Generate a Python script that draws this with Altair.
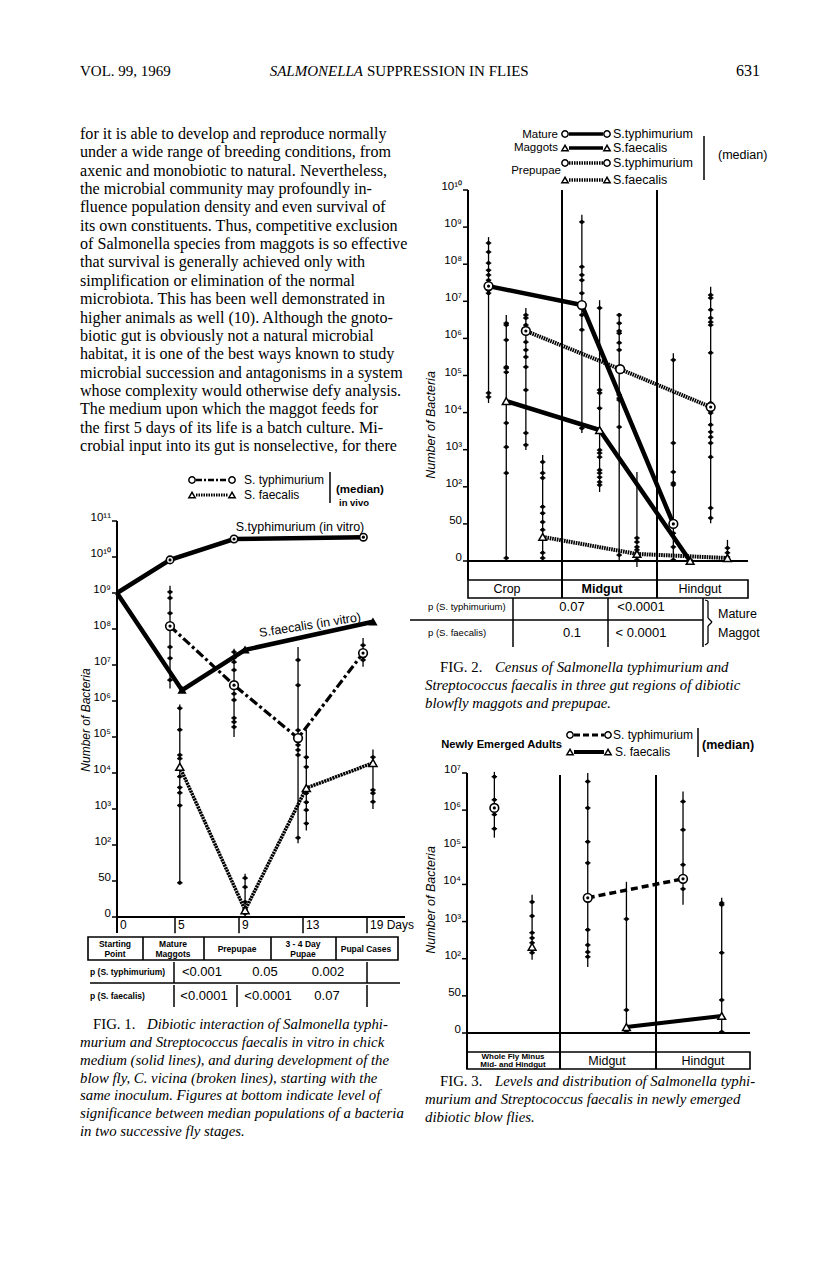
import altair as alt
import pandas as pd

# ------------------------------------------------------------------
# DATA read from the scanned page.
# Vertical values are in "axis units": 0 -> 0 bacteria, 1 -> 50,
# k (k >= 2) -> 10^k bacteria.
# ------------------------------------------------------------------
LEVEL_LABELS = ['0', '50', '10²', '10³', '10⁴', '10⁵', '10⁶', '10⁷',
                '10⁸', '10⁹', '10¹⁰', '10¹¹']

# ---- Fig. 1 (x = days) ----
f1_days = [0, 5, 9, 13, 19]
f1_day_labels = ['0', '5', '9', '13', '19 Days']
f1_vitro_typ_x = [0, 4.57, 8.69, 18.66]
f1_vitro_typ_y = [9.0, 9.92, 10.5, 10.55]
f1_vitro_fae_x = [0, 5.44, 9.38, 19.56]
f1_vitro_fae_y = [9.0, 6.3, 7.42, 8.2]
f1_vivo_typ_x = [4.57, 8.69, 12.69, 18.63]
f1_vivo_typ_y = [8.08, 6.44, 4.97, 7.33]
f1_vivo_typ_dot = [1, 1, 0, 1]
f1_vivo_fae_x = [5.3, 9.38, 13.31, 19.56]
f1_vivo_fae_y = [4.17, 0.19, 3.58, 4.28]
f1_grp_x = [4.57, 5.3, 8.69, 9.38, 12.69, 13.31, 18.63, 19.56]
f1_grp_lo = [6.35, 0.9, 5.0, 0.0, 2.05, 2.4, 6.95, 3.0]
f1_grp_hi = [9.2, 5.9, 7.45, 1.2, 7.5, 5.2, 7.75, 4.65]
f1_grp_dots = [
    [9.03, 8.86, 8.44, 7.5, 7.19, 6.58],
    [5.8, 5.2, 4.5, 4.4, 3.9, 3.6, 3.45, 3.1, 0.95],
    [7.36, 7.2, 7.08, 6.86, 6.2, 6.03, 5.53, 5.42, 5.28],
    [1.08, 0.83, 0.42, 0.2, 0.1],
    [7.14, 6.44, 5.19, 4.78, 4.64, 4.5, 2.2],
    [4.44, 4.17, 3.44, 3.19, 2.97, 2.6],
    [7.55, 7.22, 7.14],
    [4.44, 4.22, 3.53, 3.44, 3.2],
]
f1_stages = ['Starting\nPoint', 'Mature\nMaggots', 'Prepupae', '3 - 4 Day\nPupae', 'Pupal Cases']
f1_p_typ = ['<0.001', '0.05', '0.002']
f1_p_fae = ['<0.0001', '<0.0001', '0.07']

# ---- Fig. 2 (x = gut region 0 Crop, 1 Midgut, 2 Hindgut + offset) ----
f2_regions = ['Crop', 'Midgut', 'Hindgut']
f2_mat_typ_x = [0.22, 1.22, 2.20]
f2_mat_typ_y = [7.41, 6.9, 1.0]
f2_mat_typ_dot = [1, 0, 1]
f2_mat_fae_x = [0.41, 1.41, 2.38]
f2_mat_fae_y = [4.31, 3.53, 0.0]
f2_pre_typ_x = [0.62, 1.63, 2.60]
f2_pre_typ_y = [6.2, 5.17, 4.15]
f2_pre_typ_dot = [1, 0, 1]
f2_pre_fae_x = [0.80, 1.81, 2.78]
f2_pre_fae_y = [0.65, 0.19, 0.08]
f2_grp_x = [0.22, 0.41, 0.62, 0.80, 1.22, 1.41, 1.62, 1.81, 2.20, 2.38, 2.60, 2.78]
f2_grp_lo = [4.26, 0.08, 2.99, 0.0, 3.45, 1.86, 0.0, -0.16, 0.0, 0.0, 1.02, 0.0]
f2_grp_hi = [8.73, 6.63, 6.82, 2.86, 9.33, 7.03, 6.68, 2.4, 5.6, 0.1, 7.39, 0.57]
f2_grp_dots = [
    [8.57, 8.33, 8.03, 7.84, 7.71, 7.57, 7.3, 7.22, 4.53, 4.42],
    [6.41, 6.36, 5.96, 5.23, 5.2, 5.09, 4.26, 3.72, 3.07, 2.37, 0.08],
    [6.63, 6.55, 6.36, 5.9, 5.69, 5.5, 5.23, 4.61, 3.45, 3.13],
    [2.67, 2.37, 2.24, 1.46, 1.29, 1.05, 0.84, 0.22, 0.08],
    [9.14, 7.93, 7.71, 7.57, 7.22, 6.82, 6.63, 6.23, 3.67, 3.58],
    [6.82, 4.61, 4.53, 4.12, 2.99, 2.91, 2.8, 2.45, 2.37, 2.26, 2.13, 2.05],
    [6.63, 6.41, 6.2, 6.14, 5.88, 5.69, 4.48, 4.39, 4.34, 3.61, 0.16],
    [0.62, 0.51, 0.38, 0.3, 0.22, 0.11, 0.03],
    [5.42, 3.18, 2.4, 2.1, 2.05, 0.75, 0.38, 0.03],
    [0.03],
    [7.17, 7.09, 6.77, 6.55, 6.44, 6.36, 5.61, 4.26, 3.99, 3.67, 3.48, 3.34, 3.18, 2.8, 1.43, 1.16],
    [0.35, 0.22, 0.11, 0.03],
]
f2_p_typ = ['0.07', '<0.0001']
f2_p_fae = ['0.1', '< 0.0001']

# ---- Fig. 3 (x = region 0 Whole fly, 1 Midgut, 2 Hindgut + offset) ----
f3_regions = ['Whole Fly Minus\nMid- and Hindgut', 'Midgut', 'Hindgut']
f3_typ_x = [0.29, 1.28, 2.29]
f3_typ_y = [6.06, 3.64, 4.15]
f3_fae_x = [0.69, 1.69, 2.70]
f3_fae_y = [2.32, 0.16, 0.46]
f3_grp_x = [0.29, 0.69, 1.28, 1.69, 2.29, 2.70]
f3_grp_lo = [5.26, 1.97, 1.78, 0.0, 3.45, 0.0]
f3_grp_hi = [7.03, 3.72, 7.0, 4.07, 6.5, 3.64]
f3_grp_dots = [
    [6.9, 6.28, 5.88, 5.5],
    [3.53, 3.15, 2.7, 2.56, 2.43, 2.24, 2.16],
    [6.77, 6.06, 5.15, 4.58, 2.78, 2.37, 2.18, 2.05],
    [3.07, 0.62, 0.03],
    [6.23, 5.47, 4.53, 3.88],
    [3.5, 3.45, 2.16, 0.89, 0.03],
]

# ---- page text ----
body_lines = [
    "for it is able to develop and reproduce normally",
    "under a wide range of breeding conditions, from",
    "axenic and monobiotic to natural. Nevertheless,",
    "the microbial community may profoundly in-",
    "fluence population density and even survival of",
    "its own constituents. Thus, competitive exclusion",
    "of Salmonella species from maggots is so effective",
    "that survival is generally achieved only with",
    "simplification or elimination of the normal",
    "microbiota. This has been well demonstrated in",
    "higher animals as well (10). Although the gnoto-",
    "biotic gut is obviously not a natural microbial",
    "habitat, it is one of the best ways known to study",
    "microbial succession and antagonisms in a system",
    "whose complexity would otherwise defy analysis.",
    "    The medium upon which the maggot feeds for",
    "the first 5 days of its life is a batch culture. Mi-",
    "crobial input into its gut is nonselective, for there",
]
cap1_first = "Dibiotic interaction of Salmonella typhi-"
cap1_rest = [
    "murium and Streptococcus faecalis in vitro in chick",
    "medium (solid lines), and during development of the",
    "blow fly, C. vicina (broken lines), starting with the",
    "same inoculum. Figures at bottom indicate level of",
    "significance between median populations of a bacteria",
    "in two successive fly stages.",
]
cap2_first = "Census of Salmonella typhimurium and"
cap2_rest = ["Streptococcus faecalis in three gut regions of dibiotic",
             "blowfly maggots and prepupae."]
cap3_first = "Levels and distribution of Salmonella typhi-"
cap3_rest = ["murium and Streptococcus faecalis in newly emerged",
             "dibiotic blow flies."]

# ------------------------------------------------------------------
# Layout: one canvas, every panel has its own scales with pixel ranges
# ------------------------------------------------------------------
M = 8  # page margin


def S(dom, rng):
    return alt.Scale(domain=list(dom), range=[r - M for r in rng], zero=False, nice=False)


PX = S([0, 816], [0, 816])
PY = S([0, 1276], [0, 1276])
F1X = S(f1_days, [117, 175, 239, 303, 367])
F1Y = S([0, 11], [917, 521])
F2X = S([0, 3], [468, 748])
F2Y = S([0, 10], [561, 190])
F3X = S([0, 3], [467, 750])
F3Y = S([0, 7], [1033, 773])
BODY_Y = S([0, len(body_lines) - 1], [134, 446])

SANS = 'Liberation Sans'
SERIF = 'Liberation Serif'
layers = []


def xy(xs, ys):
    return dict(x=alt.X('x:Q', scale=xs, axis=None), y=alt.Y('y:Q', scale=ys, axis=None))


def add_text(xv, yv, tv, xs=PX, ys=PY, **mk):
    df = pd.DataFrame({'x': xv, 'y': yv, 't': tv})
    mk.setdefault('color', 'black')
    mk.setdefault('baseline', 'middle')
    layers.append(alt.Chart(df).mark_text(**mk).encode(text='t:N', **xy(xs, ys)))


def add_segs(x1, y1, x2, y2, xs=PX, ys=PY, **mk):
    df = pd.DataFrame({'x': x1, 'y': y1, 'x2': x2, 'y2': y2})
    mk.setdefault('color', 'black')
    layers.append(alt.Chart(df).mark_rule(**mk).encode(x2='x2:Q', y2='y2:Q', **xy(xs, ys)))


def add_line(xv, yv, xs, ys, **mk):
    df = pd.DataFrame({'x': xv, 'y': yv, 'o': list(range(len(xv)))})
    mk.setdefault('color', 'black')
    layers.append(alt.Chart(df).mark_line(**mk).encode(order='o:Q', **xy(xs, ys)))


def add_pts(xv, yv, xs, ys, **mk):
    df = pd.DataFrame({'x': xv, 'y': yv})
    layers.append(alt.Chart(df).mark_point(**mk).encode(**xy(xs, ys)))


def add_rect(x1, y1, x2, y2):
    df = pd.DataFrame({'x': x1, 'y': y1, 'x2': x2, 'y2': y2})
    layers.append(alt.Chart(df).mark_rect(fill='white', fillOpacity=0, stroke='black',
                                          strokeWidth=1.6)
                  .encode(x2='x2:Q', y2='y2:Q', **xy(PX, PY)))


def circles(xv, yv, xs, ys, dots=None, size=70):
    add_pts(xv, yv, xs, ys, shape='circle', filled=True, fill='white', stroke='black',
            strokeWidth=1.6, size=size, opacity=1)
    if dots is not None:
        dx = [x for x, d in zip(xv, dots) if d]
        dy = [y for y, d in zip(yv, dots) if d]
        add_pts(dx, dy, xs, ys, shape='circle', filled=True, color='black', size=10, opacity=1)


def triangles(xv, yv, xs, ys, size=60, fill='white'):
    add_pts(xv, yv, xs, ys, shape='triangle-up', filled=True, fill=fill, stroke='black',
            strokeWidth=1.5, size=size, opacity=1)


def groups(gx, glo, ghi, gdots, xs, ys):
    add_segs(gx, glo, gx, ghi, xs, ys, strokeWidth=1.3)
    px, py = [], []
    for x, ds in zip(gx, gdots):
        px += [x] * len(ds)
        py += ds
    add_pts(px, py, xs, ys, shape='circle', filled=True, color='black', size=16, opacity=1)
    add_pts(px, py, xs, ys, shape='stroke', color='black', size=30, strokeWidth=1.4, opacity=1)


def y_axis(nlev, x0, xs, ys):
    lv = list(range(nlev + 1))
    add_text([x0] * len(lv), lv, LEVEL_LABELS[:nlev + 1], xs, ys, align='right', dx=-6,
             dy=-3, font=SANS, fontSize=11.5)


# ------------------------------------------------------------------
# Page header and body text
# ------------------------------------------------------------------
add_text([80], [71], ['VOL. 99, 1969'], align='left', font=SERIF, fontSize=15)
add_text([363], [71], ['SALMONELLA'], align='right', font=SERIF, fontSize=15, fontStyle='italic')
add_text([367], [71], ['SUPPRESSION IN FLIES'], align='left', font=SERIF, fontSize=15)
add_text([760], [71], ['631'], align='right', font=SERIF, fontSize=16)
add_text([80] * len(body_lines), list(range(len(body_lines))), body_lines, PX, BODY_Y,
         align='left', font=SERIF, fontSize=16.1)

# captions
CF = 14.8
add_text([93], [1025], ['FIG. 1.'], align='left', font=SERIF, fontSize=CF)
add_text([147], [1025], [cap1_first], align='left', font=SERIF, fontSize=CF, fontStyle='italic')
add_text([80] * len(cap1_rest), [1043 + 17.8 * i for i in range(len(cap1_rest))], cap1_rest,
         align='left', font=SERIF, fontSize=CF, fontStyle='italic')
add_text([440], [668], ['FIG. 2.'], align='left', font=SERIF, fontSize=CF)
add_text([495], [668], [cap2_first], align='left', font=SERIF, fontSize=CF, fontStyle='italic')
add_text([425] * 2, [686, 704], cap2_rest, align='left', font=SERIF, fontSize=CF,
         fontStyle='italic')
add_text([440], [1082], ['FIG. 3.'], align='left', font=SERIF, fontSize=CF)
add_text([495], [1082], [cap3_first], align='left', font=SERIF, fontSize=CF, fontStyle='italic')
add_text([425] * 2, [1100, 1118], cap3_rest, align='left', font=SERIF, fontSize=CF,
         fontStyle='italic')

# ------------------------------------------------------------------
# FIG. 1
# ------------------------------------------------------------------
add_segs([117, 117], [521, 917], [117, 405], [933, 917], strokeWidth=2)
add_segs(f1_days[1:], [0] * 4, f1_days[1:], [-0.45] * 4, F1X, F1Y, strokeWidth=1.5)
y_axis(11, 0, F1X, F1Y)
add_segs([117] * 12, list(range(12)), [112] * 12, list(range(12)), PX,
         S([0, 11], [917, 521]), strokeWidth=1.5)
add_text(f1_days, [-0.22] * 5, f1_day_labels, F1X, F1Y, align='left', dx=3,
         font=SANS, fontSize=12)
add_text([86], [720], ['Number of Bacteria'], angle=270, font=SANS, fontSize=12,
         fontStyle='italic')
# stage boxes
add_rect([88], [937], [398], [960])
add_segs([143, 204, 271, 336], [937] * 4, [143, 204, 271, 336], [960] * 4, strokeWidth=1.6)
st_x = [115, 173, 237, 303, 366]
for xc, s in zip(st_x, f1_stages):
    parts = s.split('\n')
    ys_ = [943.5, 953.5] if len(parts) == 2 else [948.5]
    add_text([xc] * len(parts), ys_, parts, align='center', font=SANS, fontSize=8.5,
             fontWeight='bold')
# p-value table
add_text([90, 90], [972, 996], ['p (S. typhimurium)', 'p (S. faecalis)'], align='left',
         font=SANS, fontSize=8.5, fontWeight='bold')
add_text([202, 265, 328], [972] * 3, f1_p_typ, align='center', font=SANS, fontSize=13)
add_text([204, 268, 327], [996] * 3, f1_p_fae, align='center', font=SANS, fontSize=13)
add_segs([90], [983], [400], [983], strokeWidth=1.3)
add_segs([174, 367, 174, 237, 367], [962, 962, 985, 985, 985],
         [174, 367, 174, 237, 367], [983, 983, 1007, 1007, 1007], strokeWidth=1.5)
# legend
add_segs([196], [480], [228], [480], strokeWidth=2.5, strokeDash=[6, 2, 2, 2])
add_segs([196], [495], [228], [495], strokeWidth=3, strokeDash=[1.5, 1])
add_pts([192, 232], [480, 480], PX, PY, shape='circle', filled=True, fill='white',
        stroke='black', strokeWidth=1.5, size=40, opacity=1)
add_pts([192, 232], [495, 495], PX, PY, shape='triangle-up', filled=True, fill='white',
        stroke='black', strokeWidth=1.5, size=40, opacity=1)
add_text([244, 244], [480, 495], ['S. typhimurium', 'S. faecalis'], align='left',
         font=SANS, fontSize=12)
add_segs([330], [472], [330], [503], strokeWidth=1.5)
add_text([336], [490], ['(median)'], align='left', font=SANS, fontSize=11.5, fontWeight='bold')
add_text([339], [503], ['in vivo'], align='left', font=SANS, fontSize=9.5, fontWeight='bold')
add_text([300], [527], ['S.typhimurium  (in vitro)'], align='center', font=SANS, fontSize=12.5)
add_text([310], [625], ['S.faecalis (in vitro)'], align='center', font=SANS, fontSize=12.5,
         angle=351)
# data
groups(f1_grp_x, f1_grp_lo, f1_grp_hi, f1_grp_dots, F1X, F1Y)
add_line(f1_vitro_typ_x, f1_vitro_typ_y, F1X, F1Y, strokeWidth=4.5)
add_line(f1_vitro_fae_x, f1_vitro_fae_y, F1X, F1Y, strokeWidth=4.5)
add_line(f1_vivo_typ_x, f1_vivo_typ_y, F1X, F1Y, strokeWidth=3.2, strokeDash=[9, 3, 3, 3])
add_line(f1_vivo_fae_x, f1_vivo_fae_y, F1X, F1Y, strokeWidth=3.5, strokeDash=[2.2, 0.7])
circles(f1_vitro_typ_x[1:], f1_vitro_typ_y[1:], F1X, F1Y, dots=[1, 1, 1], size=55)
triangles(f1_vitro_fae_x[1:], f1_vitro_fae_y[1:], F1X, F1Y, size=45, fill='black')
circles(f1_vivo_typ_x, f1_vivo_typ_y, F1X, F1Y, dots=f1_vivo_typ_dot, size=75)
triangles(f1_vivo_fae_x, f1_vivo_fae_y, F1X, F1Y, size=65)

# ------------------------------------------------------------------
# FIG. 2
# ------------------------------------------------------------------
add_segs([468, 468, 562, 657], [190, 561, 190, 190], [468, 748, 562, 657],
         [580, 561, 598, 598], strokeWidth=2)
y_axis(10, 0, F2X, F2Y)
add_segs([468] * 11, list(range(11)), [463] * 11, list(range(11)), PX,
         S([0, 10], [561, 190]), strokeWidth=1.5)
add_text([431], [425], ['Number of Bacteria'], angle=270, font=SANS, fontSize=12.5,
         fontStyle='italic')
add_rect([468], [580], [748], [598])
add_text([507, 700], [589, 589], [f2_regions[0], f2_regions[2]], align='center',
         font=SANS, fontSize=12.5)
add_text([602], [589], [f2_regions[1]], align='center', font=SANS, fontSize=12.5,
         fontWeight='bold')
add_segs([513, 608, 703], [598] * 3, [513, 608, 703], [647] * 3, strokeWidth=1.5)
add_segs([410], [620], [703], [620], strokeWidth=1.3)
add_text([428, 428], [607, 633], ['p (S. typhimurium)', 'p (S. faecalis)'], align='left',
         font=SANS, fontSize=9.5)
add_text([572, 641], [607, 607], f2_p_typ, align='center', font=SANS, fontSize=13)
add_text([572, 641], [633, 633], f2_p_fae, align='center', font=SANS, fontSize=13)
# curly bracket drawn as strokes
add_segs([708, 708, 708, 708, 705, 705], [601, 626, 618, 626, 600, 645],
         [708, 708, 712, 712, 708, 708], [618, 643, 622, 622, 601, 643], strokeWidth=1.3)
add_text([718, 718], [614, 633], ['Mature', 'Maggot'], align='left', font=SANS, fontSize=12.5)
# legend
add_text([558, 558, 561], [135, 148, 171], ['Mature', 'Maggots', 'Prepupae'], align='right',
         font=SANS, fontSize=11.5)
add_segs([569, 569], [134, 148], [603, 603], [134, 148], strokeWidth=3.5)
add_segs([569, 569], [163, 180], [603, 603], [163, 180], strokeWidth=3.5,
         strokeDash=[1.5, 1])
add_pts([565, 607, 565, 607], [134, 134, 163, 163], PX, PY, shape='circle', filled=True,
        fill='white', stroke='black', strokeWidth=1.5, size=40, opacity=1)
add_pts([565, 607, 565, 607], [148, 148, 180, 180], PX, PY, shape='triangle-up',
        filled=True, fill='white', stroke='black', strokeWidth=1.5, size=40, opacity=1)
add_text([613] * 4, [134, 148, 163, 180],
         ['S.typhimurium', 'S.faecalis', 'S.typhimurium', 'S.faecalis'], align='left',
         font=SANS, fontSize=12.5)
add_segs([704], [136], [704], [180], strokeWidth=1.5)
add_text([718], [155], ['(median)'], align='left', font=SANS, fontSize=12.5)
# data
groups(f2_grp_x, f2_grp_lo, f2_grp_hi, f2_grp_dots, F2X, F2Y)
add_line(f2_mat_typ_x, f2_mat_typ_y, F2X, F2Y, strokeWidth=4.5)
add_line(f2_mat_fae_x, f2_mat_fae_y, F2X, F2Y, strokeWidth=4.5)
add_line(f2_pre_typ_x, f2_pre_typ_y, F2X, F2Y, strokeWidth=4, strokeDash=[1.6, 0.8])
add_line(f2_pre_fae_x, f2_pre_fae_y, F2X, F2Y, strokeWidth=4, strokeDash=[1.6, 0.8])
circles(f2_mat_typ_x, f2_mat_typ_y, F2X, F2Y, dots=f2_mat_typ_dot, size=75)
triangles(f2_mat_fae_x, f2_mat_fae_y, F2X, F2Y, size=60)
circles(f2_pre_typ_x, f2_pre_typ_y, F2X, F2Y, dots=f2_pre_typ_dot, size=75)
triangles(f2_pre_fae_x, f2_pre_fae_y, F2X, F2Y, size=60)

# ------------------------------------------------------------------
# FIG. 3
# ------------------------------------------------------------------
add_segs([467, 467, 560, 656], [773, 1033, 775, 775], [467, 750, 560, 656],
         [1069, 1033, 1069, 1069], strokeWidth=2)
y_axis(7, 0, F3X, F3Y)
add_segs([467] * 8, list(range(8)), [462] * 8, list(range(8)), PX,
         S([0, 7], [1033, 773]), strokeWidth=1.5)
add_text([431], [900], ['Number of Bacteria'], angle=270, font=SANS, fontSize=12.5,
         fontStyle='italic')
add_rect([467], [1052], [750], [1069])
add_text([513, 513], [1057, 1065], f3_regions[0].split('\n'), align='center', font=SANS,
         fontSize=8, fontWeight='bold')
add_text([607, 703], [1061, 1061], f3_regions[1:], align='center', font=SANS, fontSize=12.5)
# legend
add_text([562], [745], ['Newly Emerged Adults'], align='right', font=SANS, fontSize=11.2,
         fontWeight='bold')
add_segs([574], [735], [604], [735], strokeWidth=3, strokeDash=[6, 3])
add_segs([574], [752], [604], [752], strokeWidth=4)
add_pts([570, 608], [735, 735], PX, PY, shape='circle', filled=True, fill='white',
        stroke='black', strokeWidth=1.5, size=40, opacity=1)
add_pts([570, 608], [752, 752], PX, PY, shape='triangle-up', filled=True, fill='white',
        stroke='black', strokeWidth=1.5, size=40, opacity=1)
add_text([613, 615], [735, 752], ['S. typhimurium', 'S. faecalis'], align='left',
         font=SANS, fontSize=12)
add_segs([698], [728], [698], [757], strokeWidth=1.5)
add_text([702], [745], ['(median)'], align='left', font=SANS, fontSize=12.5, fontWeight='bold')
# data
groups(f3_grp_x, f3_grp_lo, f3_grp_hi, f3_grp_dots, F3X, F3Y)
add_line(f3_typ_x[1:], f3_typ_y[1:], F3X, F3Y, strokeWidth=3.5, strokeDash=[7, 4])
add_line(f3_fae_x[1:], f3_fae_y[1:], F3X, F3Y, strokeWidth=4)
circles(f3_typ_x, f3_typ_y, F3X, F3Y, dots=[1, 1, 1], size=75)
triangles(f3_fae_x, f3_fae_y, F3X, F3Y, size=60)

chart = (alt.layer(*layers)
         .resolve_scale(x='independent', y='independent')
         .properties(width=800, height=1260, padding=0,
                     autosize=alt.AutoSizeParams(type='none'), background='white')
         .configure_view(stroke=None))
chart.save("out.html", embed_options={"renderer": "svg", "actions": False})
